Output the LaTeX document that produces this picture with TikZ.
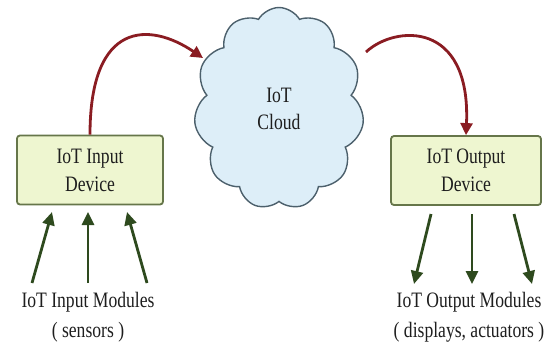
\documentclass[tikz,border=0pt]{standalone}
\usepackage{fontspec}
\setmainfont{Liberation Serif}[FakeStretch=0.8]
\usetikzlibrary{shapes.symbols,arrows.meta}
\definecolor{boxfill}{HTML}{EEF6D0}
\definecolor{boxline}{HTML}{66764A}
\definecolor{cloudfill}{HTML}{DDEEF8}
\definecolor{cloudline}{HTML}{4C606C}
\definecolor{redarr}{HTML}{8A1C22}
\definecolor{greenarr}{HTML}{2E4A1E}
\definecolor{txt}{HTML}{1E1E1E}
\tikzset{
  devbox/.style={draw=boxline, fill=boxfill, line width=1.8pt, rounded corners=3pt,
    minimum width=146pt, minimum height=69pt, align=center, inner sep=0pt,
    font=\fontsize{22}{28}\selectfont, text=txt},
  cloudnode/.style={cloud, draw=cloudline, fill=cloudfill, line width=1.4pt,
    cloud puffs=11, cloud puff arc=120, cloud ignores aspect,
    minimum width=170pt, minimum height=202pt, align=center,
    font=\fontsize{22}{27}\selectfont, text=txt},
  modtext/.style={align=center, font=\fontsize{22}{30}\selectfont, text=txt, inner sep=0pt},
  redarrow/.style={draw=redarr, line width=2.8pt, -{Triangle[length=12pt,width=12pt]}},
  greenarrow/.style={draw=greenarr, line width=2.8pt, -{Triangle[length=13pt,width=12pt]}}
}
\begin{document}
\begin{tikzpicture}[x=1pt,y=1pt]
\useasboundingbox (0,0) rectangle (548,-346);
\node[cloudnode] (cloud) at (279,-108.5) {IoT\\Cloud};
\node[devbox] (inbox) at (90,-170) {IoT Input\\Device};
\node[devbox, minimum width=150pt] (outbox) at (466,-170.5) {IoT Output\\Device};
\node[modtext] (inmod) at (88,-317) {IoT Input Modules\\( sensors )};
\node[modtext] (outmod) at (469,-317) {IoT Output Modules\\( displays, actuators )};
% red arrows
\coordinate (t1) at (203,-58);
\coordinate (s2) at (366,-52);
\draw[redarrow] (inbox.north) .. controls (90,-20) and (150,-22) .. (t1);
\draw[redarrow] (s2) .. controls (395,-25) and (471,-20) .. (outbox.north);
% green input arrows
\coordinate (a1) at (32,-283);
\coordinate (a2) at (88,-283);
\coordinate (a3) at (147,-283);
\coordinate (h1) at (52,-212);
\coordinate (h2) at (88,-212);
\coordinate (h3) at (127,-212);
\draw[greenarrow] (a1) -- (h1);
\draw[greenarrow] (a2) -- (h2);
\draw[greenarrow] (a3) -- (h3);
% green output arrows
\coordinate (b1) at (431,-214);
\coordinate (b2) at (472,-214);
\coordinate (b3) at (514,-214);
\coordinate (e1) at (414,-284);
\coordinate (e2) at (472,-284);
\coordinate (e3) at (532,-284);
\draw[greenarrow] (b1) -- (e1);
\draw[greenarrow] (b2) -- (e2);
\draw[greenarrow] (b3) -- (e3);
\end{tikzpicture}
\end{document}
